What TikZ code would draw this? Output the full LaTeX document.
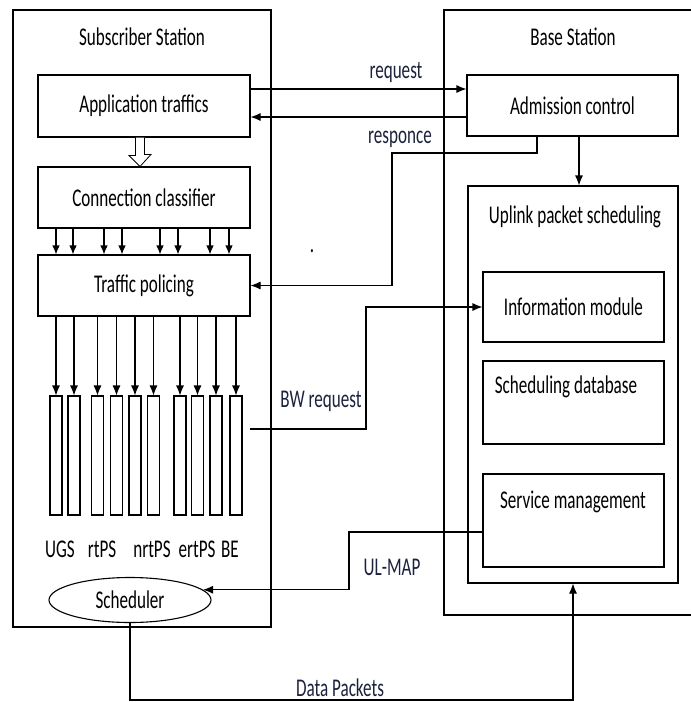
\documentclass[tikz,border=0pt]{standalone}
\usepackage{fontspec}
\setmainfont{Carlito}[FakeStretch=0.67]
\usetikzlibrary{arrows.meta,shapes.geometric,calc}
\definecolor{lblcol}{RGB}{28,34,60}
\tikzset{
  blk/.style={draw, line width=1.1pt, inner sep=0pt, minimum width=#1},
  blk/.default=10pt,
  txt/.style={inner sep=0pt, font=\fontsize{25.5pt}{29pt}\selectfont},
  lbl/.style={txt, text=lblcol},
  queue/.style={draw, line width=1.1pt, inner sep=0pt, minimum width=12pt, minimum height=119pt},
  arr/.style={line width=1.1pt, -{Latex[length=10pt,width=8pt]}},
  sarr/.style={line width=1.1pt, -{Latex[length=9pt,width=7.5pt]}},
  con/.style={line width=1.1pt}
}
\begin{document}
\begin{tikzpicture}[x=1pt,y=-1pt]
\useasboundingbox[fill=white] (0,0) rectangle (691,702);

% outer stations
\node[blk=258pt, minimum height=617pt] (ss) at (142,318.5) {};
\node[txt] (sst) at (142,37) {Subscriber Station};
\node[blk=249pt, minimum height=605pt] (bs) at (568.5,312.5) {};
\node[txt] (bst) at (573,37) {Base Station};

% subscriber blocks
\node[blk=212pt, minimum height=62pt, txt, draw, line width=1.1pt] (app) at (144,106) {Application traffics};
\node[blk=212pt, minimum height=61pt, txt, draw, line width=1.1pt] (cls) at (144,197.5) {Connection classifier};
\node[blk=212pt, minimum height=61pt, txt, draw, line width=1.1pt] (pol) at (144,285.5) {Traffic policing};

% base station blocks
\node[blk=211pt, minimum height=61pt, txt, draw, line width=1.1pt] (adm) at (572.5,105.5) {Admission control};
\node[blk=210pt, minimum height=397pt] (ups) at (573,384.5) {};
\node[txt] (upst) at (575,217) {Uplink packet scheduling};
\node[blk=181pt, minimum height=70pt, txt, draw, line width=1.1pt] (info) at (573.5,307) {Information module};
\node[blk=181pt, minimum height=83pt] (sdb) at (573.5,402.5) {};
\node[txt] (sdbt) at (566,387) {Scheduling database};
\node[blk=181pt, minimum height=93pt] (svc) at (573.5,520.5) {};
\node[txt] (svct) at (573,502) {Service management};

% hollow arrow app -> classifier
\coordinate (ha) at ([xshift=-4pt]app.south);
\draw[line width=0.8pt, fill=white] ([xshift=-4.5pt]ha) -- ++(0,18) -- ++(-6.5,0) -- (ha |- cls.north)
  -- ++(11,-12) -- ++(-6.5,0) -- ([xshift=4.5pt]ha);

% classifier -> policing small arrows
\foreach \x in {56,73,104,122,160,178,210,229}
  \draw[sarr] (\x,0 |- cls.south) -- (\x,0 |- pol.north);

% queues
\foreach \x [count=\i] in {56,74,97.5,116.5,135,153.5,180,197.5,216,236} {
  \node[queue] (q\i) at (\x,455.5) {};
  \draw[arr] (q\i.north |- pol.south) -- (q\i.north);
}
\node[txt] (lugs) at (60,549) {UGS};
\node[txt] (lrt) at (102,549) {rtPS};
\node[txt] (lnrt) at (152,549) {nrtPS};
\node[txt] (lert) at (197,549) {ertPS};
\node[txt] (lbe) at (230,549) {BE};

% scheduler
\node[draw, ellipse, line width=1.1pt, minimum width=162pt, minimum height=45pt, inner sep=0pt, txt] (sched) at (130,600) {Scheduler};

% stray dot
\node[txt] (dot) at (312,251) {.};

% request / response
\draw[arr] ([yshift=17pt]app.east) -- ([yshift=17pt]app.east -| adm.west);
\node[lbl] (lreq) at (396,72) {request};
\draw[arr] ([yshift=-11.5pt]adm.west) -- ([yshift=-11.5pt]adm.west -| app.east);

% responce to traffic policing
\coordinate (rb) at (392,153);
\draw[arr] ([xshift=-35.5pt]adm.south) |- (rb) |- (pol.east);
\node[lbl] (lresp) at (400,139) {responce};

% admission -> uplink scheduling
\draw[arr] ([xshift=6.5pt]adm.south) -- ([xshift=6.5pt]adm.south |- ups.north);

% BW request
\coordinate (bw) at (250,429);
\coordinate (bwb) at (366,429);
\draw[arr] (bw) -- (bwb) |- (info.west);
\node[lbl] (lbw) at (321,401) {BW request};

% UL-MAP
\coordinate (ulb) at (349,560);
\draw[arr] ([yshift=-11.5pt]svc.west) -| (ulb) |- (sched.8);
\node[lbl] (lul) at (392,567) {UL-MAP};

% Data packets
\coordinate (dp) at (0,700);
\draw[arr] (sched.south) |- (dp -| ups.south) -- (ups.south);
\node[lbl] (ldp) at (340,688) {Data Packets};
\end{tikzpicture}
\end{document}
